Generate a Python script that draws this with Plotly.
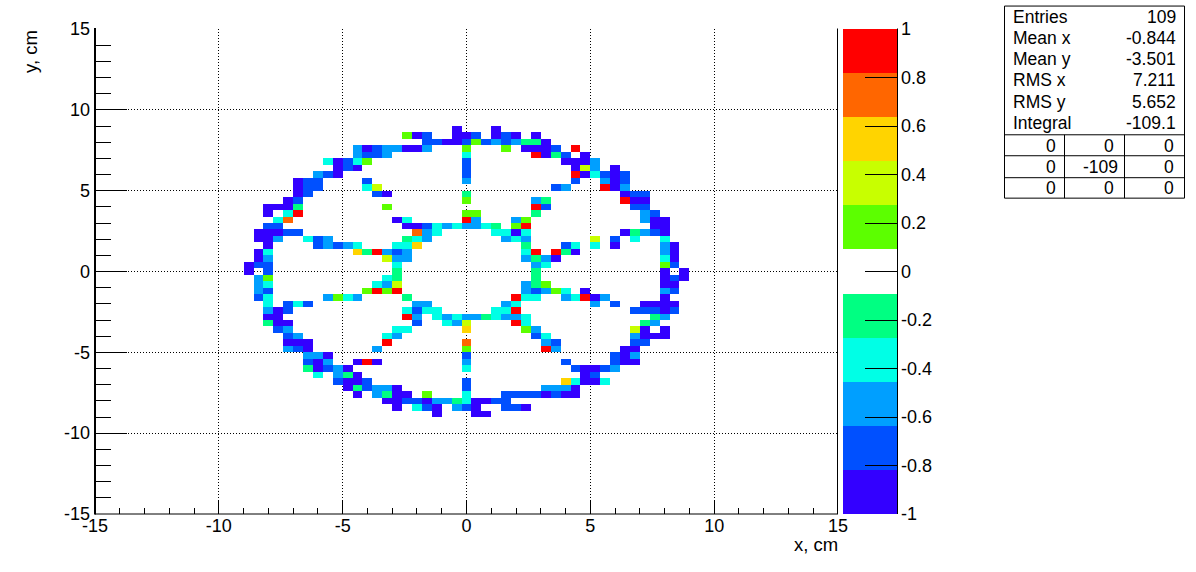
import plotly.graph_objects as go

# Histogram cells per y-bin index: "column-index + colour-level letter"
rows = {
 22: "-1I 3I",
 21: "-6G -5I -4B -1I 0I 1B 3I 4B 5I 7I",
 20: "-4B -3B -2I -1I 0B 1G 2B 3A 4B 5A 6S 7S 8I",
 19: "-11A -10I -9B -8A -7A -6I -5I -4A 0G 4G 6I 7I 8I 9B 11R",
 18: "-11A -10B -9B -8A 0C 7R 8I 9S 10B 12I",
 17: "-14C -13I -12B -11C -10G 0B 10I 11I 12I 13A",
 16: "-13I -12B -11I 0B 11I 12L 13A 15I",
 15: "-15A -14B -13I 0B 11R 12I 13C 14B 15I 16B",
 14: "-17I -16B -15B -10B 0A 11B 14A 15I 16B",
 13: "-17I -16B -15B -10C -9L 9B 10A 14R 15I 16A",
 12: "-17I -16B -9B -8I 0S 16I 17B 18B",
 11: "-18I -17B 0G 7A 8S 16R 17I 18I",
 10: "-20I -19I -18I -17S -8G 7R 8B 17B 18B",
 9: "-20I -18C -17R 0G 1G 7S 18A 19B",
 8: "-19C -18O -7I -6C 0R 1A 5A 6G 18A 19I 20I",
 7: "-20B -19B -6I -5I -4B -3C -2A -1C 0A 1A 2C 3S 5G 6R 19I 20I",
 6: "-21I -20I -19I -18B -17B -5O -4A -3C 3C 4C 5I 6C 16I 17S 18A 19B 20I",
 5: "-21I -20I -19A -16C -15B -14A -6S -5C -4A 4A 5C 6A 13L 15B 17C 20C",
 4: "-20I -15B -14A -13B -12A -11C -7C -6C -5Y 6S 10B 11C 13C 15I 20A 21I",
 3: "-21I -20C -11Y -10S -9R -8A -7B -6A 6C 7R 9R 10S 11I 20A 21I",
 2: "-21I -20A -8L -7A -6A 6A 7S 8A 9I 20C 21I",
 1: "-22I -21B -20B -7C 7A 8C 20G 21B",
 0: "-22I -20B -7S 7S 20I 22I",
 -1: "-21A -20G -8C -7S 7S 20I 21B 22I",
 -2: "-21A -20C -9C -8A -7L 6A 7S 8G 20I 21I",
 -3: "-21A -20B -10G -9R -8G -7R 6A 7B 8A 9G 10C 12I 20A 21B",
 -4: "-21B -20C -14A -13G -12C -11A -6S 5R 6C 7C 10A 11C 12R 13I 14A 20I",
 -5: "-20C -18B -17C -16B -5A -4A 4A 5C 13A 15B 18I 19I 20I 21I",
 -6: "-20A -19I -18B -6C -5B -4C -3C 3C 4C 5R 17B 18B 19B 20I 21B",
 -7: "-20I -19I -6R -5A -3C -2A -1C 0A 1A 2S 3C 4A 5A 6C 19S 20A",
 -8: "-20S -19I -18I -5B -2C -1A 0L 5R 6C 18S 19A",
 -9: "-19B -18A -7C -6C 0Y 6G 7A 17L 18I 20I",
 -10: "-18B -17A -8C -7A 7B 8C 17A 18I 19I 20I",
 -11: "-18I -17I -16I -8R 0O 8A 9B 17B 18B",
 -12: "-18A -17B -16I -9A 0G 8R 9A 16I 17I",
 -13: "-16A -15A -14I 0B 15B 16I 17A",
 -14: "-16B -15I -14A -11I -10R -9I 0A 10B 15B 16I 17I",
 -15: "-16S -15I -14B -13A -12I 0C 11B 12I 13I 14B 15A",
 -16: "-15C -13A -12S -11I 12I 13B",
 -17: "-13B -12I -11I -10B 0B 10Y 11C 12I 13I 14C",
 -18: "-12I -11S -10B -9A -8A -7I 0B 8A 9A 10A 11I",
 -19: "-11I -9A -8S -7I -6I -4G 0C 4B 5B 6B 7B 8I 9B 10I 11I",
 -20: "-8I -7I -6B -5B -4I -3A -2A -1S 0C 1I 2I 3B 4B",
 -21: "-7I -5C -4B -3I -1A 0B 1I 4B 5B 6I",
 -22: "-3I 1I 2I",
}

level_values = {"R": 0.91, "O": 0.73, "Y": 0.55, "L": 0.36, "G": 0.18,
                "S": -0.18, "C": -0.36, "A": -0.55, "B": -0.73, "I": -0.91}
palette = ["#3300FF", "#0050FF", "#009FFF", "#00FFE6", "#00FF82", "#FFFFFF",
           "#5CFF00", "#C8FF00", "#FFD400", "#FF6600", "#FF0000"]

axis_ticks = [-15, -10, -5, 0, 5, 10, 15]
axis_tick_text = ["-15", "-10", "-5", "0", "5", "10", "15"]
color_ticks = [1, 0.8, 0.6, 0.4, 0.2, 0, -0.2, -0.4, -0.6, -0.8, -1]
color_tick_text = ["1", "0.8", "0.6", "0.4", "0.2", "0", "-0.2", "-0.4", "-0.6", "-0.8", "-1"]

stat_names = ["Entries", "Mean x", "Mean y", "RMS x", "RMS y", "Integral"]
stat_values = ["109", "-0.844", "-3.501", "7.211", "5.652", "-109.1"]
over_under = [["0", "0", "0"], ["0", "-109", "0"], ["0", "0", "0"]]

FONT = "Liberation Sans"
N = 75
centers = [round(-14.8 + 0.4 * k, 3) for k in range(N)]
z = [[None] * N for _ in range(N)]
for j, text in rows.items():
    for cell in text.split():
        z[j + 37][int(cell[:-1]) + 37] = level_values[cell[-1]]

n = len(palette)
colorscale = []
for k, c in enumerate(palette):
    colorscale += [[k / n, c], [(k + 1) / n, c]]

fig = go.Figure(go.Heatmap(
    x=centers, y=centers, z=z, zmin=-1, zmax=1, colorscale=colorscale,
    xgap=0, ygap=0, hoverongaps=False,
    colorbar=dict(
        x=(843 - 95) / 743, xanchor="left", xpad=0, y=0, yanchor="bottom", ypad=0,
        len=1, lenmode="fraction", thickness=54, thicknessmode="pixels",
        outlinewidth=0,
        tickmode="array", tickvals=color_ticks, ticktext=color_tick_text,
        ticks="inside", ticklen=32, tickcolor="black", tickwidth=1,
        tickfont=dict(family=FONT, size=18, color="black"),
    ),
))


def px(x):
    return (x - 95) / 743


def py(y):
    return (514.5 - y) / 486


axis = dict(range=[-15, 15], tickmode="array", tickvals=axis_ticks, ticktext=axis_tick_text,
            showline=False,
            showgrid=True, gridcolor="black", gridwidth=1, griddash="1px,2px",
            zeroline=False, ticks="inside", tickcolor="black", tickwidth=1,
            tickfont=dict(family=FONT, size=18, color="black"))

minor = dict(tickmode="array", tickvals=list(range(-15, 16)), ticks="inside",
             tickcolor="black", tickwidth=1, showgrid=False)

fig.update_xaxes(**axis, ticklen=14, ticklabelstandoff=-1, minor=dict(**minor, ticklen=6))
fig.update_yaxes(**axis, ticklen=32, ticklabelstandoff=4, minor=dict(**minor, ticklen=16))

shapes = []


def line(x0, y0, x1, y1, width=1):
    shapes.append(dict(type="line", xref="paper", yref="paper",
                       x0=px(x0), y0=py(y0), x1=px(x1), y1=py(y1),
                       line=dict(color="black", width=width)))


shapes.append(dict(type="rect", xref="paper", yref="paper", x0=px(1004.5), x1=px(1184.5),
                   y0=py(198), y1=py(5.5), line=dict(color="black", width=1), fillcolor="white"))
for yy in (134.5, 155.5, 177.5):
    line(1004.5, yy, 1184.5, yy)
for xx in (1064.5, 1124.5):
    line(xx, 134.5, xx, 198)
line(897.5, 28, 897.5, 514.5)
line(95, 27.5, 95, 515, width=2)
line(95, 514.5, 838, 514.5)
line(837.5, 28, 837.5, 514.5)

annotations = []


def label(x, y, text, anchor="left", angle=0, size=17.5):
    annotations.append(dict(xref="paper", yref="paper", x=px(x), y=py(y), text=text,
                            showarrow=False, xanchor=anchor, yanchor="middle",
                            textangle=angle, borderpad=0, borderwidth=0,
                            font=dict(family=FONT, size=size, color="black")))


for k, (a, b) in enumerate(zip(stat_names, stat_values)):
    yy = 16.5 + k * 21.2
    label(1013, yy, a)
    label(1175.5, yy, b, "right")
for r, row in enumerate(over_under):
    yy = 145.5 + r * 21.2
    for xx, t in zip((1056, 1114 if row[1] == "0" else 1118, 1174), row):
        label(xx, yy, t, "right")

label(838, 545, "x, cm", "right", size=18.5)
annotations.append(dict(xref="paper", yref="paper", x=px(30), y=py(28), text="y, cm",
                        showarrow=False, xanchor="center", yanchor="top", textangle=-90,
                        font=dict(family=FONT, size=18.5, color="black")))

fig.update_layout(
    width=1196, height=572, autosize=False,
    margin=dict(l=95, r=358, t=28.5, b=57.5, pad=0, autoexpand=False),
    paper_bgcolor="white", plot_bgcolor="white",
    shapes=shapes, annotations=annotations,
)

fig.write_html("out.html", config={"displayModeBar": False},
               post_script="document.body.style.margin='0';")
